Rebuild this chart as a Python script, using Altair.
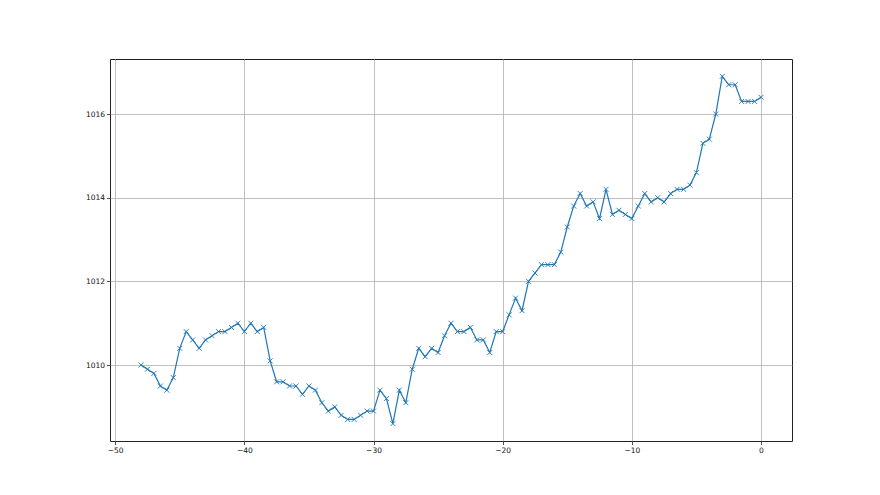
import altair as alt
import pandas as pd

hours = [-48 + 0.5 * i for i in range(97)]
pressure = [
    1010.0, 1009.9, 1009.8, 1009.5, 1009.4, 1009.7, 1010.4, 1010.8, 1010.6, 1010.4,
    1010.6, 1010.7, 1010.8, 1010.8, 1010.9, 1011.0, 1010.8, 1011.0, 1010.8, 1010.9,
    1010.1, 1009.6, 1009.6, 1009.5, 1009.5, 1009.3, 1009.5, 1009.4, 1009.1, 1008.9,
    1009.0, 1008.8, 1008.7, 1008.7, 1008.8, 1008.9, 1008.9, 1009.4, 1009.2, 1008.6,
    1009.4, 1009.1, 1009.9, 1010.4, 1010.2, 1010.4, 1010.3, 1010.7, 1011.0, 1010.8,
    1010.8, 1010.9, 1010.6, 1010.6, 1010.3, 1010.8, 1010.8, 1011.2, 1011.6, 1011.3,
    1012.0, 1012.2, 1012.4, 1012.4, 1012.4, 1012.7, 1013.3, 1013.8, 1014.1, 1013.8,
    1013.9, 1013.5, 1014.2, 1013.6, 1013.7, 1013.6, 1013.5, 1013.8, 1014.1, 1013.9,
    1014.0, 1013.9, 1014.1, 1014.2, 1014.2, 1014.3, 1014.6, 1015.3, 1015.4, 1016.0,
    1016.9, 1016.7, 1016.7, 1016.3, 1016.3, 1016.3, 1016.4,
]
x_ticks = [-50, -40, -30, -20, -10, 0]
y_ticks = [1010, 1012, 1014, 1016]

df = pd.DataFrame({"h": hours, "p": pressure})

common = dict(title=None, grid=True, gridColor="#b0b0b0", gridWidth=0.8,
              domain=False, tickColor="#222222", tickSize=3.5, tickWidth=0.8,
              labelFont="DejaVu Sans", labelFontSize=7.5, labelColor="#111111",
              labelPadding=2, format="d")
xax = alt.Axis(values=x_ticks, **common)
yax = alt.Axis(values=y_ticks, **common)

xs = alt.Scale(domain=[-50.4, 2.4], nice=False, zero=False)
ys = alt.Scale(domain=[1008.185, 1017.315], nice=False, zero=False)

base = alt.Chart(df).encode(
    x=alt.X("h:Q", scale=xs, axis=xax),
    y=alt.Y("p:Q", scale=ys, axis=yax),
)

line = base.mark_line(color="#1f77b4", strokeWidth=1.2)
pts = base.mark_point(shape="M-1,-1L1,1M-1,1L1,-1", filled=False, color="#1f77b4",
                      strokeWidth=0.9, size=25, opacity=1)

chart = (line + pts).properties(
    width=682, height=382,
    autosize=alt.AutoSizeParams(type="none"),
    padding={"left": 102, "top": 51, "right": 80, "bottom": 46},
    background="white",
).configure_view(stroke="#222222", strokeWidth=1)

chart.save("out.html", embed_options={"renderer": "svg", "actions": False})
